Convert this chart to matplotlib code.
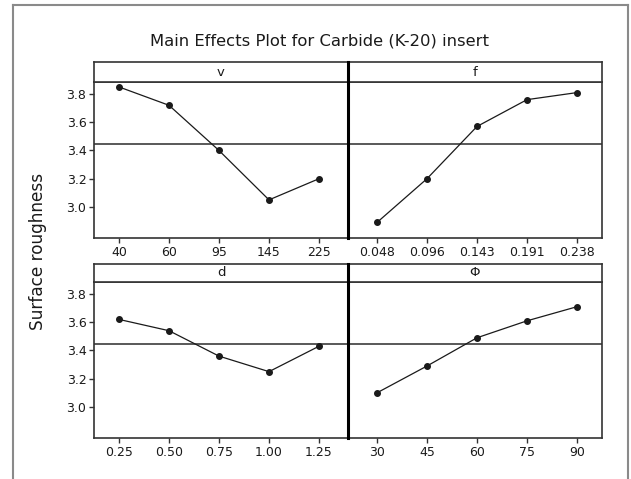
import matplotlib.pyplot as plt
from matplotlib.lines import Line2D
import numpy as np


#***** Data *****
v_levels = ['40', '60', '95', '145', '225']
v_means = [3.85, 3.72, 3.40, 3.05, 3.20]

f_levels = ['0.048', '0.096', '0.143', '0.191', '0.238']
f_means = [2.89, 3.20, 3.57, 3.76, 3.81]

d_levels = ['0.25', '0.50', '0.75', '1.00', '1.25']
d_means = [3.62, 3.54, 3.36, 3.25, 3.43]

phi_levels = ['30', '45', '60', '75', '90']
phi_means = [3.10, 3.29, 3.49, 3.61, 3.71]

factor_names = ['v', 'f', 'd', 'Φ']
y_ticks = [3.0, 3.2, 3.4, 3.6, 3.8]
#***********************************

# reference line = grand mean of all level means
grand_mean = np.mean(v_means + f_means + d_means + phi_means)

W, H = 631, 479
fig = plt.figure(figsize=(W / 100, H / 100), dpi=100)
fig.patch.set_facecolor('white')


def px_axes(x0, y0, x1, y1):
    # axes placed with pixel coords (origin top-left)
    return fig.add_axes([x0 / W, 1 - y1 / H, (x1 - x0) / W, (y1 - y0) / H])


edge = '#333333'
ink = '#1a1a1a'

# (levels, means, name, x0, x1, strip_top, plot_top, plot_bottom, left column?)
panels = [
    (v_levels, v_means, factor_names[0], 94, 348, 62, 82, 238, True),
    (f_levels, f_means, factor_names[1], 348, 602, 62, 82, 238, False),
    (d_levels, d_means, factor_names[2], 94, 348, 264, 282, 438, True),
    (phi_levels, phi_means, factor_names[3], 348, 602, 264, 282, 438, False),
]

#********** Draw the panels ************
for levels, means, name, x0, x1, s_top, p_top, p_bot, is_left in panels:
    ax = px_axes(x0, p_top, x1, p_bot)
    x = np.arange(len(levels))
    ax.axhline(grand_mean, color='#3c3c3c', lw=1.2, zorder=1)
    ax.plot(x, means, color=ink, lw=0.9, marker='o', ms=4, zorder=3)
    ax.set_xticks(x)
    ax.set_xticklabels(levels)
    if is_left:
        ax.set_xlim(-0.5, 4.58)
        ax.set_yticks(y_ticks)
        ax.set_yticklabels(['%.1f' % t for t in y_ticks])
    else:
        ax.set_xlim(-0.58, 4.5)
        ax.set_yticks([])
    ax.set_ylim(2.78, 3.885)
    ax.tick_params(axis='both', direction='out', length=3.5, width=1,
                   color=edge, labelsize=9, labelcolor=ink, pad=2)
    for sp in ax.spines.values():
        sp.set_color(edge)
        sp.set_linewidth(1.2)

    # strip with the factor name
    st = px_axes(x0, s_top, x1, p_top)
    st.set_xticks([])
    st.set_yticks([])
    for sp in st.spines.values():
        sp.set_color(edge)
        sp.set_linewidth(1.2)
    st.text(0.5, 0.5, name, ha='center', va='center', fontsize=9.5, color=ink,
            transform=st.transAxes)

# thick divider between the two columns
for y0, y1 in [(62, 238), (264, 438)]:
    fig.add_artist(Line2D([348 / W, 348 / W], [1 - y0 / H, 1 - y1 / H],
                          color='black', lw=2.2))
#***************************************

#********** Outer frame, title and y label ************
frame = '#8a8a8a'
fig.add_artist(Line2D([13 / W, 13 / W], [0, 1 - 5 / H], color=frame, lw=1.5))
fig.add_artist(Line2D([13 / W, 628 / W], [1 - 5 / H, 1 - 5 / H], color=frame, lw=1.5))
fig.add_artist(Line2D([628 / W, 628 / W], [0, 1 - 5 / H], color=frame, lw=1.5))

fig.text(320 / W, 1 - 41 / H, 'Main Effects Plot for Carbide (K-20) insert',
         ha='center', va='center', fontsize=11.8, color=ink)
fig.text(38 / W, 1 - 251 / H, 'Surface roughness', rotation=90,
         ha='center', va='center', fontsize=12.2, color=ink)
#******************************************************

fig.savefig('out.png', dpi=100)
